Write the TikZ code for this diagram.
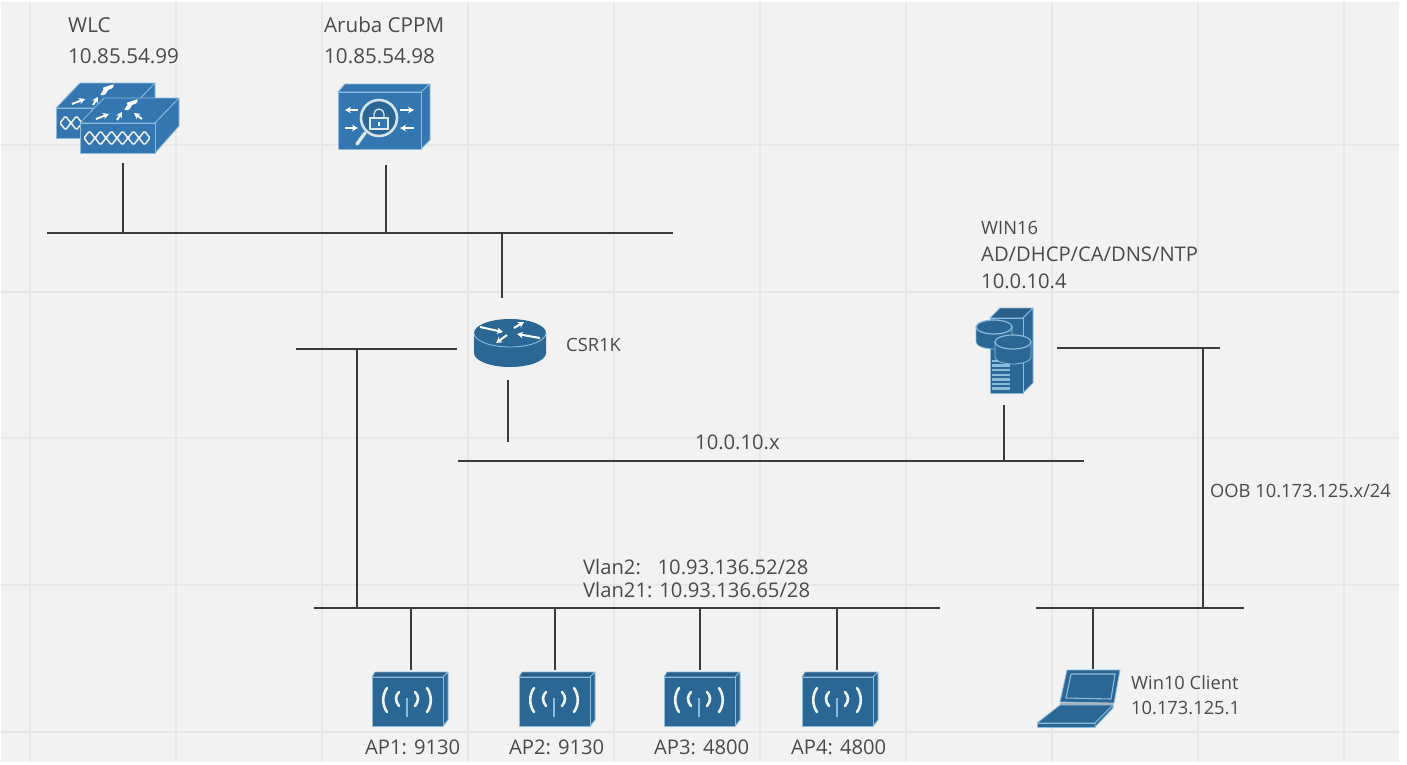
\documentclass[tikz,border=0pt]{standalone}
\usepackage{fontspec}
\setmainfont{Open Sans}
\usetikzlibrary{arrows.meta}
\definecolor{bgc}{HTML}{F2F2F2}
\definecolor{gridc}{HTML}{E8E8E8}
\definecolor{linec}{HTML}{3A3A3A}
\definecolor{txtc}{HTML}{4A4A4A}
\definecolor{icona}{HTML}{3376B0}
\definecolor{iconb}{HTML}{2B6794}
\definecolor{icond}{HTML}{2A5F8A}
\definecolor{iconl}{HTML}{8DBBDC}
\tikzset{
  x=1pt,y=-1pt,
  wire/.style={draw=linec,line width=1.5pt},
  gridl/.style={draw=gridc,line width=1.2pt},
  big/.style={text=txtc,inner sep=0pt,anchor=west,font=\fontsize{20.6}{24}\selectfont},
  mid/.style={text=txtc,inner sep=0pt,anchor=west,font=\fontsize{20.2}{24}\selectfont},
  sml/.style={text=txtc,inner sep=0pt,anchor=west,font=\fontsize{18.3}{22}\selectfont},
  face/.style={fill=#1,draw=iconl,line width=0.8pt,line join=round},
  wht/.style={draw=white!92!iconb,line width=2.6pt,line cap=round},
  warrow/.style={draw=white,line width=2pt,-{Stealth[length=6pt,width=6.5pt]}},
  apicon/.pic={
    \path[face=icond] (0,0)--(3,-5)--(76,-5)--(71,0)--cycle;
    \path[face=iconb] (71,0)--(76,-5)--(76,43)--(71,49)--cycle;
    \path[face=iconb] (0,0) rectangle (71,49);
    \draw[wht] (15,11) .. controls (10,18) and (10,28) .. (15,35);
    \draw[wht] (55,11) .. controls (60,18) and (60,28) .. (55,35);
    \draw[wht] (27,15) .. controls (23,19) and (23,24) .. (27,29);
    \draw[wht] (43,15) .. controls (47,19) and (47,24) .. (43,29);
    \draw[draw=iconl,line width=1.6pt] (35,21)--(35,40);
  },
  switchicon/.pic={
    \path[face=icona] (0,0)--(24,-25)--(99,-25)--(75,0)--cycle;
    \path[face=icona] (75,0)--(99,-25)--(99,3)--(75,30)--cycle;
    \path[face=icona] (0,0) rectangle (75,30);
    \foreach \k in {0,1,2,3,4,5}{
      \draw[draw=white!88!gray,line width=1.5pt,rounded corners=1.5pt] (4+\k*11,15)--(9.5+\k*11,8)--(15+\k*11,15)--(9.5+\k*11,22)--cycle;
    }
    \draw[warrow] (16,-4)--(29,-9);
    \draw[warrow] (37,-3)--(42,-11);
    \draw[warrow] (62,-4)--(54,-10);
    \fill[white,rounded corners=1pt] (44,-13)--(48,-19)--(46,-20)--(58,-24)--(57,-20)--(52,-18)--(49,-13)--cycle;
  },
  cppmicon/.pic={
    \path[face=icona] (0,0)--(7,-8)--(92,-8)--(83,0)--cycle;
    \path[face=icona] (83,0)--(92,-8)--(92,48)--(83,57)--cycle;
    \path[face=icona] (0,0) rectangle (83,57);
    \draw[warrow] (20,18)--(7,18);
    \draw[warrow] (7,36)--(20,36);
    \draw[warrow] (62,18)--(76,18);
    \draw[warrow] (76,36)--(62,36);
    \draw[draw=white!85!icona,line width=3.4pt,line cap=round] (27,41)--(19,52);
    \draw[draw=white!80!icona,line width=2.6pt,fill=iconb] (41,26) circle[radius=18];
    \draw[draw=white!85!icona,line width=1.3pt] (36,26)--(36,22) arc[start angle=180,end angle=360,radius=5]--(46,26);
    \draw[draw=white!85!icona,line width=1.2pt,fill=icona] (32,26) rectangle (50,37);
    \fill[white] (40,30) rectangle (42,34);
  },
  routericon/.pic={
    \path[fill=iconb] (-36,0)--(-36,20) arc[start angle=180,end angle=0,x radius=36,y radius=14]--(36,0)--cycle;
    \path[fill=iconb] (0,0) ellipse[x radius=36,y radius=14];
    \draw[draw=iconl,line width=0.9pt] (-36,0) arc[start angle=180,end angle=0,x radius=36,y radius=14];
    \draw[warrow] (-30,-6)--(-7,-1);
    \draw[warrow] (4,-5)--(14,-11);
    \draw[warrow] (30,5)--(7,1);
    \draw[warrow] (-3,2)--(-14,10);
  },
  cylicon/.pic={
    \path[fill=iconb,draw=iconl,line width=0.8pt] (-18,0)--(-18,15) arc[start angle=180,end angle=0,x radius=18,y radius=7]--(18,0)--cycle;
    \path[fill=iconb,draw=iconl,line width=1.2pt] (0,0) ellipse[x radius=18,y radius=7];
  },
  servericon/.pic={
    \path[face=icond] (0,0)--(10,-10)--(43,-10)--(33,0)--cycle;
    \path[face=iconb] (33,0)--(43,-10)--(43,65)--(33,75)--cycle;
    \path[face=iconb] (0,0) rectangle (33,75);
    \foreach \k in {0,...,6}{\draw[draw=iconl,line width=2.4pt] (2,43+\k*4.6)--(20,43+\k*4.6);}
    \pic at (4,9) {cylicon};
    \pic at (23,24) {cylicon};
  },
  laptopicon/.pic={
    \path[face=iconb] (7,0)--(60,0)--(54,33)--(0,32)--cycle;
    \draw[draw=iconl,line width=1.1pt] (11,4)--(55,4)--(51,29)--(6,28)--cycle;
    \draw[draw=gray!60,line width=1.2pt] (0,34)--(53,34);
    \path[face=iconb] (0,35)--(53,35)--(35,53)--(-23,53)--cycle;
    \path[face=iconb] (-23,53)--(35,53)--(35,57)--(-23,57)--cycle;
    \path[face=iconb] (53,35)--(53,38)--(35,57)--(35,53)--cycle;
  }
}
\begin{document}
\begin{tikzpicture}
\useasboundingbox (0,0) rectangle (1407,764);
\fill[white] (0,0) rectangle (1407,764);
\fill[bgc] (1,2) rectangle (1399,762);
\foreach \gx in {30,176,322,468,614,760,906,1052,1198,1344}{\draw[gridl] (\gx,2)--(\gx,762);}
\foreach \gy in {145,292,438,585,732}{\draw[gridl] (1,\gy)--(1399,\gy);}

% named connector ends
\coordinate (topL) at (47,233); \coordinate (topR) at (673,233);
\coordinate (wlcP) at (123,163); \coordinate (cppmP) at (386,165);
\coordinate (rtrN) at (502,298); \coordinate (rtrW) at (457,349); \coordinate (rtrS) at (508,380);
\coordinate (lanL) at (296,349); \coordinate (lanEnd) at (508,442);
\coordinate (midL) at (458,461); \coordinate (midR) at (1084,461);
\coordinate (srvS) at (1004,405); \coordinate (srvE) at (1057,348); \coordinate (oobR) at (1220,348);
\coordinate (apL) at (314,608); \coordinate (apR) at (940,608);
\coordinate (cliL) at (1036,608); \coordinate (cliR) at (1244,608);
\coordinate (ap1P) at (411,670); \coordinate (ap2P) at (555,670);
\coordinate (ap3P) at (700,670); \coordinate (ap4P) at (837,670);
\coordinate (lapP) at (1093,669);
\coordinate (vlanT) at (357,349); \coordinate (oobT) at (1203,348);

\draw[wire] (topL)--(topR);
\draw[wire] (wlcP)--(wlcP|-topL);
\draw[wire] (cppmP)--(cppmP|-topL);
\draw[wire] (rtrN)--(rtrN|-topL);
\draw[wire] (lanL)--(rtrW);
\draw[wire] (vlanT)--(vlanT|-apL);
\draw[wire] (rtrS)--(lanEnd);
\draw[wire] (midL)--(midR);
\draw[wire] (srvS)--(srvS|-midL);
\draw[wire] (srvE)--(oobR);
\draw[wire] (oobT)--(oobT|-cliL);
\draw[wire] (apL)--(apR);
\draw[wire] (cliL)--(cliR);
\draw[wire] (ap1P)--(ap1P|-apL);
\draw[wire] (ap2P)--(ap2P|-apL);
\draw[wire] (ap3P)--(ap3P|-apL);
\draw[wire] (ap4P)--(ap4P|-apL);
\draw[wire] (lapP)--(lapP|-cliL);

% icons
\pic at (56,108) {switchicon};
\pic at (80,123) {switchicon};
\pic at (338,92) {cppmicon};
\pic at (510,333) {routericon};
\pic at (990,318) {servericon};
\pic at (372,677) {apicon};
\pic at (519,677) {apicon};
\pic at (664,677) {apicon};
\pic at (802,677) {apicon};
\pic at (1060,670) {laptopicon};

% labels
\node[big] (tWLC) at (68,25) {WLC};
\node[big] (tWLCip) at (68,56) {10.85.54.99};
\node[big] (tCPPM) at (324,25) {Aruba CPPM};
\node[big] (tCPPMip) at (324,56) {10.85.54.98};
\node[sml] (tCSR) at (566,345) {CSR1K};
\node[sml] (tW1) at (981,228) {WIN16};
\node[mid] (tW2) at (981,254) {AD/DHCP/CA/DNS/NTP};
\node[mid] (tW3) at (981,281) {10.0.10.4};
\node[mid] (tMid) at (695,442) {10.0.10.x};
\node[mid] (tV1) at (583,567) {Vlan2:\phantom{1} 10.93.136.52/28};
\node[mid] (tV2) at (583,590) {Vlan21: 10.93.136.65/28};
\node[sml] (tOOB) at (1210,491) {OOB 10.173.125.x/24};
\node[sml] (tC1) at (1131,683) {Win10 Client};
\node[sml] (tC2) at (1131,708) {10.173.125.1};
\node[mid] (tA1) at (365,747) {AP1: 9130};
\node[mid] (tA2) at (509,747) {AP2: 9130};
\node[mid] (tA3) at (654,747) {AP3: 4800};
\node[mid] (tA4) at (791,747) {AP4: 4800};
\end{tikzpicture}
\end{document}
